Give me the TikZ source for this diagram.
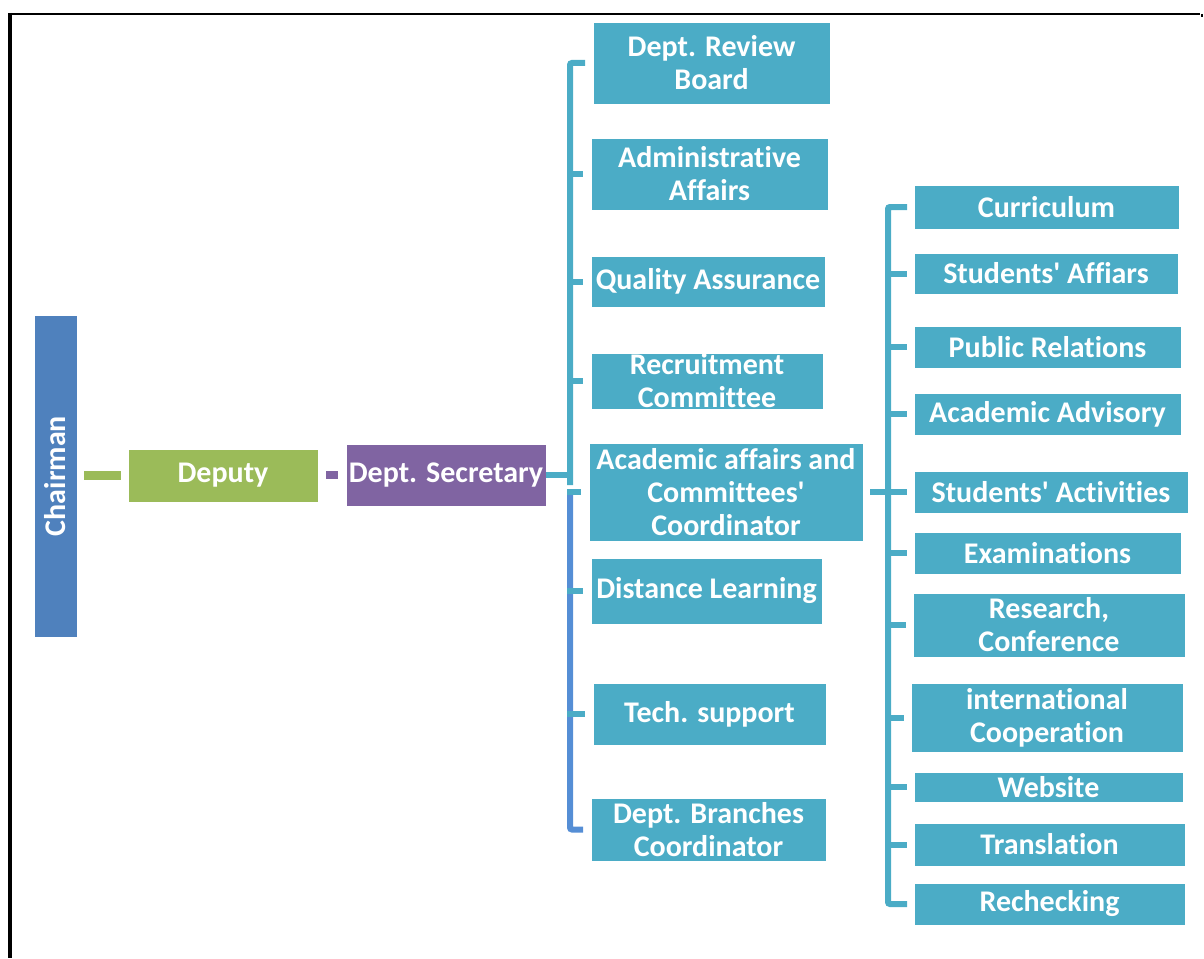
\documentclass[tikz,border=0pt]{standalone}
\usepackage{fontspec}
\newfontfamily\cfont{Carlito}[Ligatures={NoCommon}]
\definecolor{tealbox}{RGB}{75,172,198}
\definecolor{chairblue}{RGB}{79,129,189}
\definecolor{depgreen}{RGB}{155,187,89}
\definecolor{secpurple}{RGB}{128,100,162}
\definecolor{lineblue}{RGB}{85,142,213}
\tikzset{
  x=1pt, y=-1pt,
  box/.style={draw=white, line width=0.6pt, inner sep=0pt, outer sep=0pt, fill=tealbox},
  txt/.style={inner sep=0pt, text=white, font=\cfont\bfseries\fontsize{30}{33}\selectfont, align=center},
  tealline/.style={draw=tealbox, line width=6pt},
  blueline/.style={draw=lineblue, line width=6pt},
}
\begin{document}
\begin{tikzpicture}
\useasboundingbox (0,0) rectangle (1204,958);
% frame
\draw[line width=2pt] (9,14) -- (1200,14);
\draw[line width=2pt] (1202,14) -- (1202,17);
\draw[line width=4.5pt] (10,13) -- (10,958);

% main chain
\node[box, fill=chairblue, minimum width=43, minimum height=322] (chair) at (55.5,476) {};
\node[txt, rotate=90] (chairT) at (chair) {Chairman};
\node[box, fill=depgreen, minimum width=190, minimum height=53] (dep) at (223,475.5) {};
\node[txt] (depT) at (dep) {Deputy};
\node[box, fill=secpurple, minimum width=200, minimum height=62] (sec) at (446,475) {};
\node[txt] (secT) at (sec) {Dept. Secretary};

\draw[draw=depgreen, line width=9pt, shorten <=7pt, shorten >=7pt] (chair.east |- dep.west) -- (dep.west);
\draw[draw=secpurple, line width=8pt, shorten <=8pt, shorten >=8pt] (dep.east |- sec.west) -- (sec.west);

% left column
\node[box, minimum width=237, minimum height=82] (rb) at (711.5,63) {};
\node[txt] (rbT) at (rb) {Dept. Review\\Board};
\node[box, minimum width=237, minimum height=72] (adm) at (709.5,174) {};
\node[txt] (admT) at (adm) {Administrative\\Affairs};
\node[box, minimum width=234, minimum height=51] (qa) at (708,281.5) {};
\node[txt] (qaT) at (qa) {Quality Assurance};
\node[box, minimum width=232, minimum height=56] (rec) at (707,381) {};
\node[txt] (recT) at (rec) {Recruitment\\Committee};
\node[box, minimum width=274, minimum height=98] (ac) at (726,492) {};
\node[txt] (acT) at (ac) {Academic affairs and\\Committees'\\Coordinator};
\node[box, minimum width=231, minimum height=66] (dl) at (706.5,591) {};
\node[txt] (dlT) at (dl) {Distance Learning};
\node[box, minimum width=233, minimum height=62] (ts) at (709.5,714) {};
\node[txt] (tsT) at (ts) {Tech. support};
\node[box, minimum width=235, minimum height=63] (br) at (708.5,829.5) {};
\node[txt] (brT) at (br) {Dept. Branches\\Coordinator};

\coordinate (lj) at (570,485);
\draw[tealline] (sec.east) -- (sec.east -| lj);
\draw[tealline, rounded corners=2pt] ([xshift=-8pt]rb.west) -| (lj);
\draw[blueline, rounded corners=2pt] ([yshift=-6pt]lj) |- ([xshift=-8pt]br.west);
\foreach \b in {adm,qa,rec,ac,dl,ts}{
  \draw[tealline] ([xshift=-3pt]lj |- \b.west) -- ([xshift=-8pt]\b.west);
}

% right column
\node[box, minimum width=265, minimum height=44] (cur) at (1046.5,207) {};
\node[txt] (curT) at (cur) {Curriculum};
\node[box, minimum width=264, minimum height=41] (saf) at (1046,273.5) {};
\node[txt] (safT) at (saf) {Students' Affiars};
\node[box, minimum width=267, minimum height=42] (pr) at (1047.5,347) {};
\node[txt] (prT) at (pr) {Public Relations};
\node[box, minimum width=267, minimum height=42] (aad) at (1047.5,414) {};
\node[txt] (aadT) at (aad) {Academic Advisory};
\node[box, minimum width=274, minimum height=42] (sac) at (1051,492) {};
\node[txt] (sacT) at (sac) {Students' Activities};
\node[box, minimum width=267, minimum height=42] (ex) at (1047.5,553) {};
\node[txt] (exT) at (ex) {Examinations};
\node[box, minimum width=272, minimum height=64] (rc) at (1049,625) {};
\node[txt] (rcT) at (rc) {Research,\\Conference};
\node[box, minimum width=272, minimum height=69] (ic) at (1047,717.5) {};
\node[txt] (icT) at (ic) {international\\Cooperation};
\node[box, minimum width=269, minimum height=30] (ws) at (1048.5,787) {};
\node[txt] (wsT) at (ws) {Website};
\node[box, minimum width=271, minimum height=43] (tr) at (1049.5,844.5) {};
\node[txt] (trT) at (tr) {Translation};
\node[box, minimum width=271, minimum height=42] (re) at (1049.5,904) {};
\node[txt] (reT) at (re) {Rechecking};

\coordinate (rj) at (888,492);
\draw[tealline, shorten <=7pt, shorten >=7pt] (ac.east) -- (sac.west);
\draw[tealline, rounded corners=2pt] ([xshift=-7pt]cur.west) -| (rj) |- ([xshift=-7pt]re.west);
\foreach \b in {saf,pr,aad,ex,rc,ic,ws,tr}{
  \draw[tealline] ([xshift=-3pt]rj |- \b.west) -- ([xshift=-7pt]\b.west);
}
\end{tikzpicture}
\end{document}
